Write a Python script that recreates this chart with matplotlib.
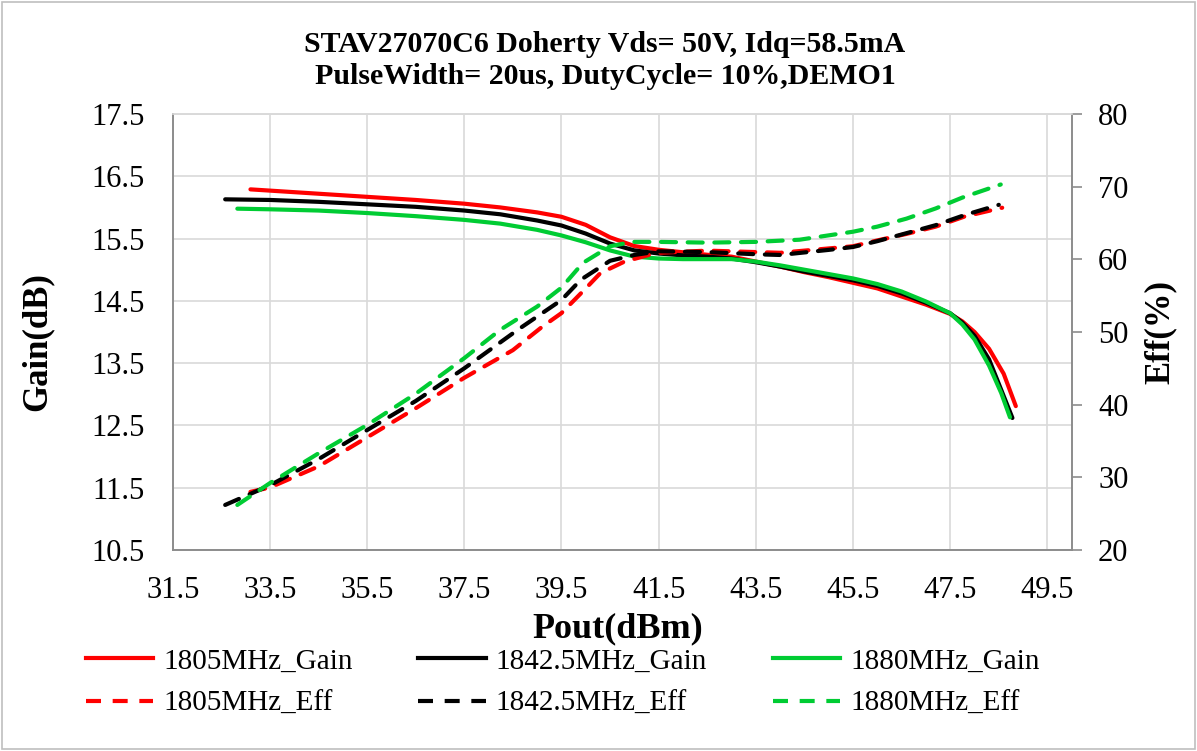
import matplotlib
matplotlib.use("Agg")
import matplotlib.pyplot as plt
from matplotlib.lines import Line2D
from matplotlib.patches import Rectangle

plt.rcParams['font.family'] = ['Liberation Serif', 'DejaVu Serif']

# ---------------- data ----------------
pout_g1805 = [33.1, 34.5, 35.5, 36.5, 37.5, 38.24, 39.0, 39.5, 40.0, 40.5, 41.0, 41.5, 42.0, 42.5,
              43.0, 43.5, 44.0, 44.5, 45.0, 45.5, 46.0, 46.5, 47.0, 47.5, 47.75, 48.0, 48.3, 48.6, 48.85]
gain_1805 = [16.29, 16.22, 16.17, 16.12, 16.06, 16.0, 15.92, 15.85, 15.72, 15.52, 15.38, 15.32, 15.28, 15.24,
             15.21, 15.13, 15.05, 14.96, 14.88, 14.79, 14.70, 14.57, 14.44, 14.29, 14.17, 14.00, 13.73, 13.33, 12.81]

pout_g1842 = [32.58, 33.5, 34.5, 35.5, 36.5, 37.5, 38.24, 39.0, 39.5, 40.0, 40.5, 41.0, 41.5, 42.0, 42.5,
              43.0, 43.5, 44.0, 44.5, 45.0, 45.5, 46.0, 46.5, 47.0, 47.5, 47.75, 48.0, 48.3, 48.55, 48.78]
gain_1842 = [16.13, 16.12, 16.09, 16.05, 16.01, 15.95, 15.89, 15.79, 15.71, 15.58, 15.42, 15.31, 15.26, 15.23, 15.21,
             15.18, 15.12, 15.05, 14.97, 14.90, 14.83, 14.74, 14.62, 14.47, 14.30, 14.15, 13.94, 13.56, 13.07, 12.62]

pout_g1880 = [32.83, 33.5, 34.5, 35.5, 36.5, 37.5, 38.24, 39.0, 39.5, 40.0, 40.5, 41.0, 41.5, 42.0, 42.5,
              43.0, 43.5, 44.0, 44.5, 45.0, 45.5, 46.0, 46.5, 47.0, 47.5, 47.75, 48.0, 48.3, 48.55, 48.73]
gain_1880 = [15.98, 15.97, 15.95, 15.91, 15.86, 15.80, 15.74, 15.64, 15.55, 15.44, 15.31, 15.21, 15.18, 15.17, 15.17,
             15.17, 15.13, 15.07, 15.00, 14.93, 14.86, 14.77, 14.65, 14.49, 14.30, 14.12, 13.88, 13.46, 13.02, 12.63]

pout_e1805 = [33.1, 33.5, 34.5, 35.5, 36.5, 37.5, 38.5, 39.1, 39.5, 40.0, 40.3, 40.8, 41.3, 41.5, 42.5,
              43.5, 44.0, 44.5, 45.0, 45.5, 46.0, 46.6, 47.2, 47.8, 48.57]
eff_1805 = [28.0, 28.6, 31.5, 35.5, 39.5, 43.7, 47.5, 50.7, 52.6, 56.0, 58.1, 59.7, 60.6, 60.9, 61.2,
            61.0, 60.9, 61.2, 61.5, 61.8, 62.6, 63.5, 64.5, 65.9, 67.1]

pout_e1842 = [32.58, 33.5, 34.5, 35.5, 36.5, 37.5, 38.6, 39.5, 39.9, 40.5, 41.0, 41.5, 42.5,
              43.5, 44.0, 45.0, 45.5, 46.0, 46.6, 47.2, 47.8, 48.5]
eff_1842 = [26.2, 28.9, 32.5, 36.5, 40.5, 45.0, 50.3, 54.4, 57.2, 59.8, 60.6, 61.1, 61.0,
            60.7, 60.6, 61.3, 61.7, 62.5, 63.6, 64.7, 66.1, 67.5]

pout_e1880 = [32.83, 33.5, 34.5, 35.5, 36.5, 37.5, 38.24, 39.0, 39.5, 39.94, 40.5, 40.96, 41.5, 42.5,
              43.5, 44.4, 45.0, 45.5, 46.0, 46.6, 47.2, 47.75, 48.54]
eff_1880 = [26.2, 29.2, 33.3, 37.2, 41.5, 46.4, 50.3, 53.5, 56.1, 59.5, 61.8, 62.4, 62.4, 62.3,
            62.4, 62.7, 63.3, 63.8, 64.5, 65.6, 67.0, 68.5, 70.3]

x_ticks = [31.5, 33.5, 35.5, 37.5, 39.5, 41.5, 43.5, 45.5, 47.5, 49.5]
gain_ticks = [10.5, 11.5, 12.5, 13.5, 14.5, 15.5, 16.5, 17.5]
eff_ticks = [20, 30, 40, 50, 60, 70, 80]

title_lines = ["STAV27070C6 Doherty Vds= 50V, Idq=58.5mA",
               "PulseWidth= 20us, DutyCycle= 10%,DEMO1"]
gain_labels = ["1805MHz_Gain", "1842.5MHz_Gain", "1880MHz_Gain"]
eff_labels = ["1805MHz_Eff", "1842.5MHz_Eff", "1880MHz_Eff"]

RED = "#ff0000"
BLACK = "#000000"
GREEN = "#00cc33"
colors = [RED, BLACK, GREEN]

# ---------------- figure ----------------
W, H = 1197, 751
fig = plt.figure(figsize=(W / 100, H / 100), dpi=100)
ax = fig.add_axes([172.7 / W, 1 - 550 / H, (1071.7 - 172.7) / W, (550 - 114) / H])
ax2 = ax.twinx()

lw = 3.0
dash = (3.6, 2.8)
for px, gy, c in zip([pout_g1805, pout_g1842, pout_g1880], [gain_1805, gain_1842, gain_1880], colors):
    ax.plot(px, gy, color=c, lw=lw, solid_capstyle='round', solid_joinstyle='round')
for px, ey, c in zip([pout_e1805, pout_e1842, pout_e1880], [eff_1805, eff_1842, eff_1880], colors):
    ax2.plot(px, ey, color=c, lw=lw, dashes=dash, dash_capstyle='round')

ax.set_xlim(31.5, 50.0)
ax.set_ylim(10.5, 17.5)
ax2.set_ylim(20, 80)
ax.set_xticks(x_ticks)
ax.set_yticks(gain_ticks)
ax2.set_yticks(eff_ticks)
ax.set_xticklabels([f"{v:.1f}" for v in x_ticks])
ax.set_yticklabels([f"{v:.1f}" for v in gain_ticks])
ax2.set_yticklabels([str(v) for v in eff_ticks])

ax.grid(True, color="#d9d9d9", lw=1.2)
ax.set_axisbelow(True)
for a in (ax, ax2):
    for s in a.spines.values():
        s.set_color("#8c8c8c")
        s.set_linewidth(1.2)
    a.spines['top'].set_color("#d9d9d9")
ax.tick_params(axis='y', length=0, labelsize=22, pad=20)
ax.tick_params(axis='x', length=0, labelsize=22, pad=19)
ax2.tick_params(axis='y', length=7, width=1.2, color="#8c8c8c", labelsize=22, pad=12)

ax.set_xlabel("Pout(dBm)", fontsize=26, fontweight='bold')
ax.xaxis.set_label_coords(0.4953, -0.142)
ax.set_ylabel("Gain(dB)", fontsize=25, fontweight='bold')
ax.yaxis.set_label_coords(-0.132, 0.478)
ax2.set_ylabel("Eff(%)", fontsize=25, fontweight='bold', rotation=90)
ax2.yaxis.set_label_coords(1.0805, 0.5)

fig.text(605 / W, 1 - 44 / H, title_lines[0], ha='center', va='center', fontsize=21.5, fontweight='bold')
fig.text(605 / W, 1 - 77 / H, title_lines[1], ha='center', va='center', fontsize=21.5, fontweight='bold')

gain_handles = [Line2D([], [], color=c, lw=lw) for c in colors]
eff_handles = [Line2D([], [], color=c, lw=lw, dashes=dash) for c in colors]
handles, labels = [], []
for i in range(3):
    handles += [gain_handles[i], eff_handles[i]]
    labels += [gain_labels[i], eff_labels[i]]
fig.legend(handles, labels, loc='upper left', bbox_to_anchor=(86 / W, 1 - 648 / H), ncol=3,
           frameon=False, fontsize=21, handlelength=2.3, handletextpad=0.35,
           columnspacing=2.25, labelspacing=0.55, borderpad=0, borderaxespad=0)

fig.patches.append(Rectangle((0.002, 0.002), 0.996, 0.996, transform=fig.transFigure,
                             fill=False, edgecolor="#bfbfbf", lw=1.2))

fig.savefig("out.png", dpi=100)
